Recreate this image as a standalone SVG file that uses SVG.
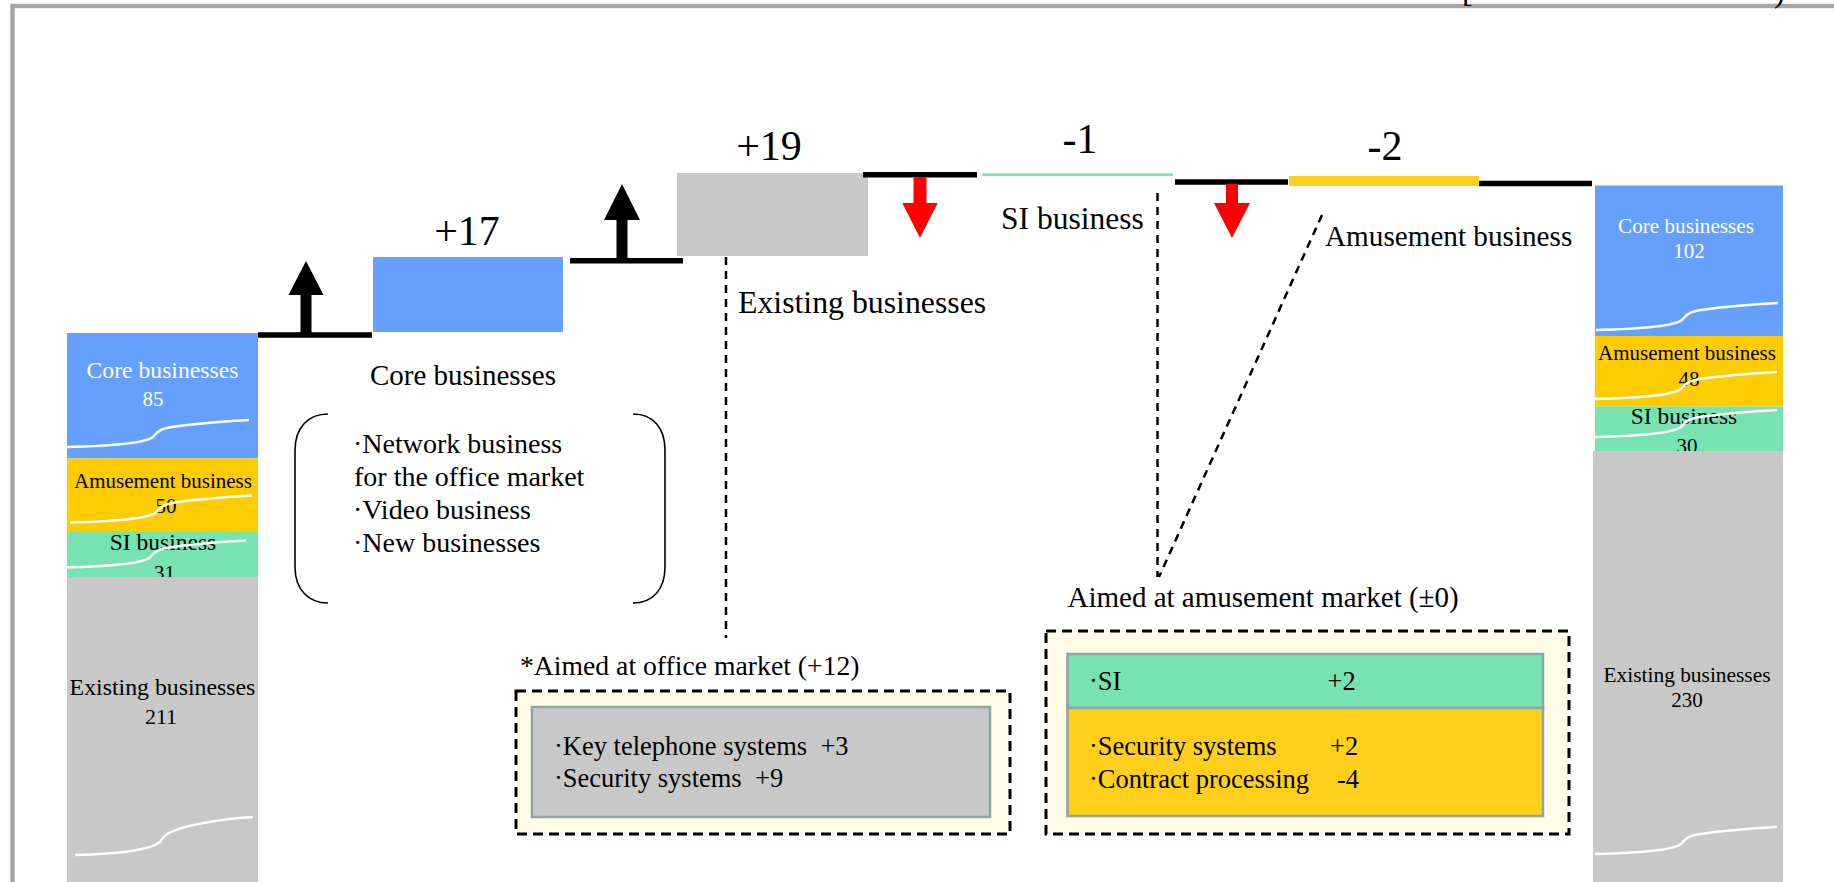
<svg xmlns="http://www.w3.org/2000/svg" xmlns:xlink="http://www.w3.org/1999/xlink" width="1834" height="882" viewBox="0 0 1834 882">
  <style>
    text { font-family: "Liberation Serif", "Times New Roman", serif; fill: #000; }
    .w { fill: #fff; }
    .mid { text-anchor: middle; }
    .blue { fill: #66A0FF; }
    .yel { fill: #FFCC00; }
    .grn { fill: #77E3B0; }
    .gry { fill: #C8C8C8; }
    .step { stroke: #000; stroke-width: 5.5; fill: none; }
    .lead { stroke: #000; stroke-width: 2.5; stroke-dasharray: 8 6; fill: none; }
    .dbox { fill: #FFFDE8; stroke: #000; stroke-width: 3; stroke-dasharray: 10 6; }
    .ibox { stroke: #8FA5A5; stroke-width: 2.5; }
    .brk { stroke: #fff; stroke-width: 2.5; fill: none; }
    .num { font-size: 42px; }
  </style>
  <defs>
    <!-- break mark drawn across a truncated bar segment -->
    <path id="brk" class="brk" d="M0,0 C43,-1 78,-4 86,-10 C90,-15 93,-18 105,-20 C133,-24 163,-26 182,-27"/>
  </defs>

  <rect width="1834" height="882" fill="#fff"/>

  <!-- page frame -->
  <g id="frame">
    <path d="M12.5,882 V6 H1834" fill="none" stroke="#A6A6A6" stroke-width="4.5"/>
    <text x="1462" y="2" font-size="32">[</text>
    <text x="1774" y="1.5" font-size="32">)</text>
  </g>

  <!-- starting stack -->
  <g id="bar-left">
    <rect class="blue" x="67" y="333" width="191" height="125.5"/>
    <text class="w mid" x="162.5" y="377.5" font-size="23.7">Core businesses</text>
    <text class="w mid" x="153" y="405.5" font-size="21">85</text>
    <use xlink:href="#brk" x="67" y="447"/>
    <rect class="yel" x="67" y="458.5" width="191" height="73.5"/>
    <text class="mid" x="163" y="488" font-size="21">Amusement business</text>
    <text class="mid" x="166" y="513" font-size="21">50</text>
    <use xlink:href="#brk" x="70" y="522.5"/>
    <rect class="grn" x="67" y="532" width="191" height="45"/>
    <text class="mid" x="163" y="550" font-size="23.5">SI business</text>
    <text class="mid" x="164.5" y="580" font-size="21">31</text>
    <use xlink:href="#brk" x="64" y="567.5"/>
    <rect class="gry" x="67" y="577" width="191" height="305"/>
    <text class="mid" x="162.5" y="695" font-size="23.8">Existing businesses</text>
    <text class="mid" x="161" y="724" font-size="22">211</text>
    <path class="brk" d="M75,855 C120,854 150,850 160,842 C165,833 172,831 185,827 C210,821 235,818 253,817"/>
  </g>

  <!-- ending stack -->
  <g id="bar-right">
    <rect class="blue" x="1595" y="185.5" width="188" height="150.5"/>
    <text class="w mid" x="1686" y="233" font-size="21.2">Core businesses</text>
    <text class="w mid" x="1689" y="258" font-size="21">102</text>
    <use xlink:href="#brk" x="1596" y="330"/>
    <rect class="yel" x="1595" y="336" width="188" height="70.5"/>
    <text class="mid" x="1687" y="360" font-size="21">Amusement business</text>
    <text class="mid" x="1689" y="386" font-size="21">48</text>
    <use xlink:href="#brk" x="1595" y="399"/>
    <rect class="grn" x="1595" y="406.5" width="188" height="44.5"/>
    <text class="mid" x="1684" y="424" font-size="23.5">SI business</text>
    <text class="mid" x="1687" y="453" font-size="21">30</text>
    <use xlink:href="#brk" x="1595" y="437"/>
    <rect class="gry" x="1593" y="451" width="190" height="431"/>
    <text class="mid" x="1687" y="682" font-size="21.4">Existing businesses</text>
    <text class="mid" x="1687" y="707" font-size="21">230</text>
    <use xlink:href="#brk" x="1595" y="854"/>
  </g>

  <!-- core businesses increment -->
  <g id="step-core">
    <rect class="blue" x="373" y="257" width="190" height="75"/>
    <text class="mid num" x="467" y="245">+17</text>
    <text class="mid" x="463" y="385" font-size="29">Core businesses</text>
  </g>

  <g id="core-detail">
    <path d="M328,414 C308,414 295,428 295,450 V567 C295,589 308,603 328,603" fill="none" stroke="#000" stroke-width="1.6"/>
    <path d="M633,414 C653,414 665,428 665,450 V567 C665,589 653,603 633,603" fill="none" stroke="#000" stroke-width="1.6"/>
    <text x="353" y="453" font-size="28">·Network business</text>
    <text x="354" y="486" font-size="28">for the office market</text>
    <text x="353" y="519" font-size="28">·Video business</text>
    <text x="353" y="552" font-size="28">·New businesses</text>
  </g>

  <!-- existing businesses increment -->
  <g id="step-existing">
    <rect class="gry" x="677" y="173" width="191" height="83"/>
    <text class="mid num" x="769" y="160">+19</text>
    <text x="738" y="313" font-size="31.8">Existing businesses</text>
  </g>

  <!-- SI decrement -->
  <g id="step-si">
    <rect x="982" y="173.3" width="191" height="2.8" fill="#7EE3B4"/>
    <text class="mid num" x="1080" y="153">-1</text>
    <text x="1001" y="228.5" font-size="31.5">SI business</text>
  </g>

  <!-- amusement decrement -->
  <g id="step-amusement">
    <rect x="1289" y="176" width="190" height="10" fill="#FFCF1A"/>
    <text class="mid num" x="1385" y="160">-2</text>
    <text x="1325" y="246" font-size="29.2">Amusement business</text>
  </g>

  <!-- office market breakdown -->
  <g id="office-box">
    <text x="520" y="675" font-size="27.7">*Aimed at office market (+12)</text>
    <rect class="dbox" x="516" y="691" width="494" height="143"/>
    <rect class="ibox gry" x="532" y="707" width="458" height="110"/>
    <text x="554" y="755" font-size="26.5" xml:space="preserve">·Key telephone systems  +3</text>
    <text x="554" y="787" font-size="26.5" xml:space="preserve">·Security systems  +9</text>
  </g>

  <!-- amusement market breakdown -->
  <g id="amusement-box">
    <text x="1067.5" y="607" font-size="29">Aimed at amusement market (±0)</text>
    <rect class="dbox" x="1046" y="631" width="523" height="203"/>
    <rect class="ibox grn" x="1067.5" y="654" width="475.5" height="54"/>
    <rect class="ibox" x="1067.5" y="708" width="475.5" height="108" fill="#FFCF1A"/>
    <text x="1089" y="690" font-size="26.5">·SI</text>
    <text x="1327.5" y="690" font-size="26.5">+2</text>
    <text x="1089" y="755" font-size="26.5">·Security systems</text>
    <text x="1330" y="755" font-size="26.5">+2</text>
    <text x="1089" y="788" font-size="26.5">·Contract processing</text>
    <text x="1337" y="788" font-size="26.5">-4</text>
  </g>

  <!-- connectors: level steps, direction arrows, leader lines -->
  <g id="connectors">
    <line class="step" x1="258" y1="335" x2="372" y2="335"/>
    <line class="step" x1="570" y1="260.7" x2="683" y2="260.7"/>
    <line class="step" x1="863" y1="174.7" x2="977" y2="174.7"/>
    <line class="step" x1="1175" y1="182" x2="1288" y2="182"/>
    <line class="step" x1="1479" y1="183.5" x2="1592" y2="183.5"/>

    <rect x="300.5" y="294" width="11" height="41"/>
    <polygon points="288.5,295 306,261 323.5,295"/>
    <rect x="616.5" y="219" width="11" height="42"/>
    <polygon points="604,220 622,184 640,220"/>

    <rect x="913.5" y="177" width="13" height="27" fill="#FF0000"/>
    <polygon points="902.3,203 920,238 937.7,203" fill="#FF0000"/>
    <rect x="1226" y="184" width="12" height="20" fill="#FF0000"/>
    <polygon points="1214,203 1232,238 1250,203" fill="#FF0000"/>

    <line class="lead" x1="726" y1="257" x2="726" y2="638"/>
    <line class="lead" x1="1157.5" y1="193" x2="1157.5" y2="577"/>
    <line class="lead" x1="1322" y1="215" x2="1159" y2="577"/>
  </g>
</svg>
